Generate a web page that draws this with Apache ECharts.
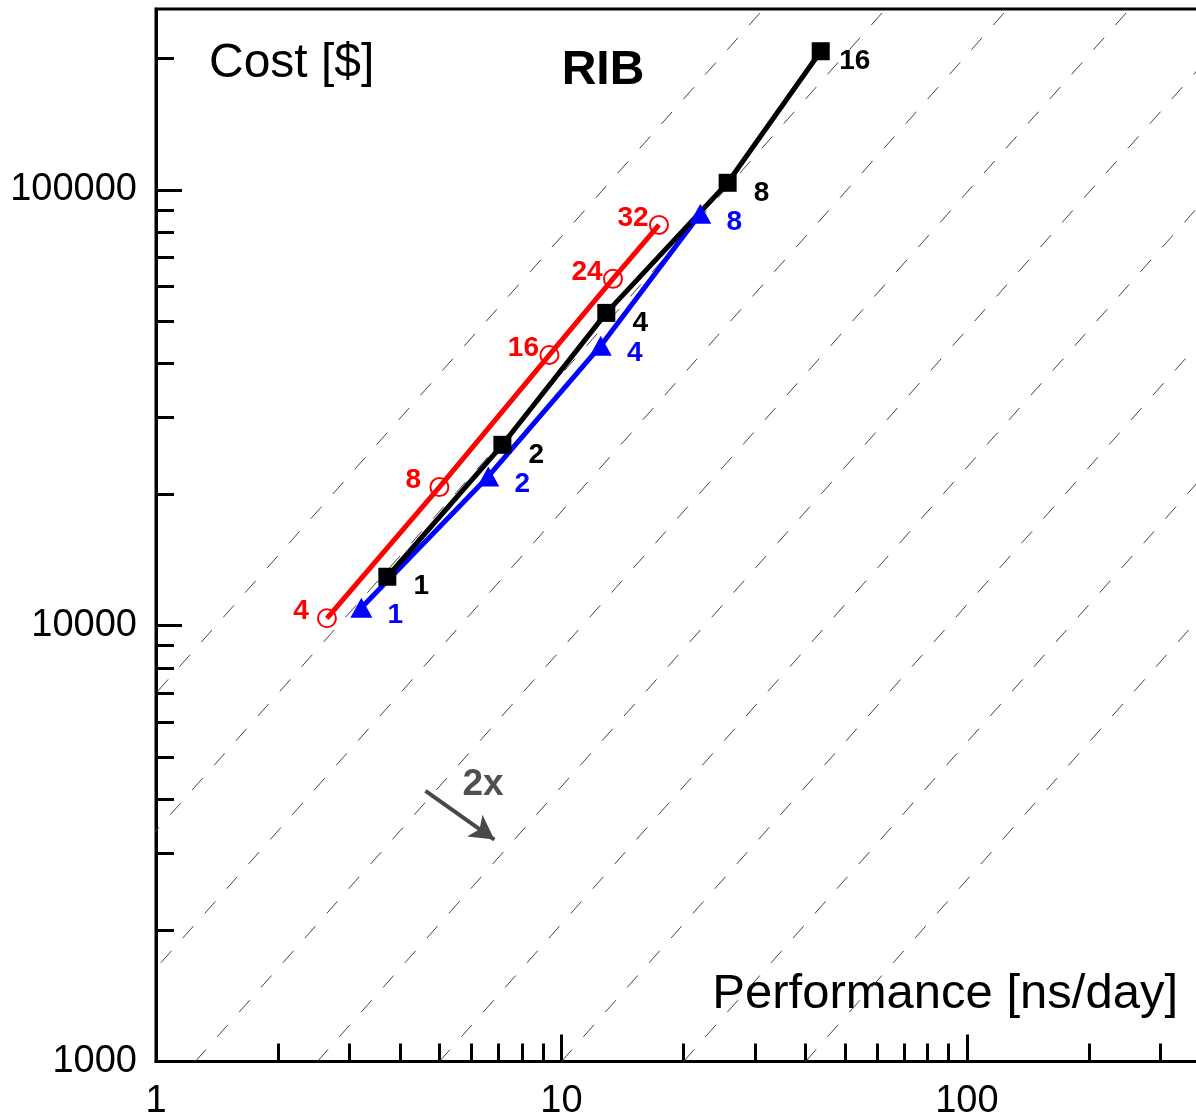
<!DOCTYPE html>
<html><head><meta charset="utf-8">
<script src="https://cdn.jsdelivr.net/npm/echarts@6/dist/echarts.min.js"></script>
<style>html,body{margin:0;padding:0;background:#fff}#c{width:1196px;height:1118px}</style>
</head><body><div id="c"></div>
<script>
// ---- data ----
const blackLabels = ['1', '2', '4', '8', '16'];
const blackPerf = [3.72, 7.15, 12.9, 25.7, 43.6];
const blackCost = [12950, 26000, 52200, 103800, 208000];

const blueLabels = ['1', '2', '4', '8'];
const bluePerf = [3.21, 6.60, 12.5, 22.0];
const blueCost = [11000, 22000, 43900, 88100];

const redLabels = ['4', '8', '16', '24', '32'];
const redPerf = [2.64, 5.00, 9.34, 13.4, 17.4];
const redCost = [10400, 20800, 41800, 62500, 83100];

const xLabelValues = [1, 10, 100];
const xMajorTicks = [10, 100];
const xMinorTicks = [2, 3, 4, 5, 6, 7, 8, 9, 20, 30, 40, 50, 60, 70, 80, 90, 200, 300];
const yLabelValues = [1000, 10000, 100000];
const yMajorTicks = [10000, 100000];
const yMinorTicks = [2000, 3000, 4000, 5000, 6000, 7000, 8000, 9000,
  20000, 30000, 40000, 50000, 60000, 70000, 80000, 90000, 200000];

// dashed guide lines: performance where each meets cost 1000 and cost 260000
const guideStartPerf = [0.156, 0.3125, 0.625, 1.25, 2.5, 5, 10, 20, 40];
const guideEndPerf = [31.5, 63, 126, 252, 504, 1008, 2016, 4032, 8064];
const guideStartCost = 1000;
const guideEndCost = 260000;

const arrowFrom = [4.62, 4180];
const arrowTo = [6.83, 3230];

const FONT = '"Liberation Sans", Arial, sans-serif';

function pairs(xs, ys) { return xs.map((x, i) => [x, ys[i]]); }

const gridBox = { left: 156, top: 9, right: -15, bottom: 56.5, outerBoundsMode: 'none', containLabel: false };

const guideSeries = guideStartPerf.map((s, i) => ({
  type: 'line', xAxisIndex: 0, yAxisIndex: 0,
  data: [[s, guideStartCost], [guideEndPerf[i], guideEndCost]],
  symbol: 'none', silent: true, animation: false, clip: true, z: 1,
  lineStyle: { color: '#444', width: 1, type: [16, 17] }
}));

function dataSeries(perf, cost, labels, color, symbol, size, offset, extra) {
  return Object.assign({
    type: 'line', xAxisIndex: 0, yAxisIndex: 0,
    data: pairs(perf, cost),
    symbol: symbol, symbolSize: size, showSymbol: true, animation: false, z: 3,
    lineStyle: { color: color, width: 5 },
    itemStyle: { color: color },
    label: {
      show: true, position: 'inside', offset: offset,
      formatter: p => labels[p.dataIndex],
      fontSize: 28, fontWeight: 'bold', fontFamily: FONT, color: color
    },
    emphasis: { disabled: true }
  }, extra || {});
}

const option = {
  backgroundColor: '#fff',
  animation: false,
  grid: [
    Object.assign({ show: true, borderColor: '#000', borderWidth: 3, backgroundColor: 'transparent' }, gridBox),
    Object.assign({ show: false }, gridBox)
  ],
  xAxis: [
    {
      type: 'log', logBase: 10, gridIndex: 0, min: 1, max: 400, position: 'bottom',
      axisLine: { show: true, lineStyle: { color: '#000', width: 3 } },
      axisTick: { show: true, inside: true, length: 27, customValues: xMajorTicks, lineStyle: { color: '#000', width: 3 } },
      axisLabel: { show: true, customValues: xLabelValues, fontSize: 38, fontFamily: FONT, color: '#000', margin: 21,
        formatter: v => String(Math.round(v)) },
      splitLine: { show: false }, minorTick: { show: false }, minorSplitLine: { show: false }
    },
    {
      type: 'log', logBase: 10, gridIndex: 1, min: 1, max: 400, position: 'bottom',
      axisLine: { show: false },
      axisTick: { show: true, inside: true, length: 18, customValues: xMinorTicks, lineStyle: { color: '#000', width: 3 } },
      axisLabel: { show: false }, splitLine: { show: false }
    }
  ],
  yAxis: [
    {
      type: 'log', logBase: 10, gridIndex: 0, min: 1000, max: 260000, position: 'left',
      axisLine: { show: true, lineStyle: { color: '#000', width: 3 } },
      axisTick: { show: true, inside: true, length: 26, customValues: yMajorTicks, lineStyle: { color: '#000', width: 3 } },
      axisLabel: { show: true, customValues: yLabelValues, fontSize: 38, fontFamily: FONT, color: '#000', margin: 19,
        formatter: v => String(Math.round(v)) },
      splitLine: { show: false }, minorTick: { show: false }, minorSplitLine: { show: false }
    },
    {
      type: 'log', logBase: 10, gridIndex: 1, min: 1000, max: 260000, position: 'left',
      axisLine: { show: false },
      axisTick: { show: true, inside: true, length: 18, customValues: yMinorTicks, lineStyle: { color: '#000', width: 3 } },
      axisLabel: { show: false }, splitLine: { show: false }
    }
  ],
  graphic: [
    { type: 'text', x: 209, y: 64, style: { text: 'Cost [$]', fontSize: 48, fontFamily: FONT, fill: '#000',
      align: 'left', textAlign: 'left', verticalAlign: 'middle', textVerticalAlign: 'middle' } },
    { type: 'text', x: 1178, y: 994, style: { text: 'Performance [ns/day]', fontSize: 49, fontFamily: FONT, fill: '#000',
      align: 'right', textAlign: 'right', verticalAlign: 'middle', textVerticalAlign: 'middle' } },
    { type: 'text', x: 603, y: 71, style: { text: 'RIB', fontSize: 48, fontWeight: 'bold', fontFamily: FONT, fill: '#000',
      align: 'center', textAlign: 'center', verticalAlign: 'middle', textVerticalAlign: 'middle' } },
    { type: 'text', x: 483, y: 785, style: { text: '2x', fontSize: 37, fontWeight: 'bold', fontFamily: FONT, fill: '#505050',
      align: 'center', textAlign: 'center', verticalAlign: 'middle', textVerticalAlign: 'middle' } }
  ],
  series: guideSeries.concat([
    {
      type: 'line', xAxisIndex: 0, yAxisIndex: 0, data: [], silent: true, animation: false,
      markLine: {
        silent: true, animation: false, symbol: ['none', 'arrow'], symbolSize: [20, 24],
        label: { show: false },
        lineStyle: { color: '#484848', width: 4, type: 'solid' },
        emphasis: { disabled: true },
        data: [[{ coord: arrowFrom }, { coord: arrowTo }]]
      }
    },
    dataSeries(bluePerf, blueCost, blueLabels, '#0000ff', 'triangle', [22, 20], [34, 8]),
    dataSeries(redPerf, redCost, redLabels, '#ff0000', 'circle', 18, [-26, -7], {
      itemStyle: { color: 'rgba(255,255,255,0)', borderColor: '#ff0000', borderWidth: 2 }
    }),
    dataSeries(blackPerf, blackCost, blackLabels, '#000000', 'rect', 18, [34, 10])
  ])
};

const chart = echarts.init(document.getElementById('c'), null, { renderer: 'canvas' });
chart.setOption(option);
</script>
</body></html>
